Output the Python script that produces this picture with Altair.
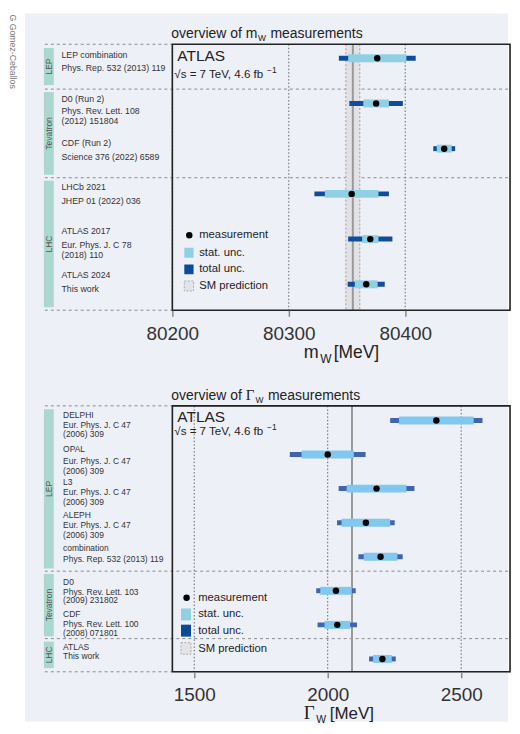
import altair as alt
import pandas as pd

FONT = "Liberation Sans"
SERIF = "Liberation Serif"
BG = "#eef0f8"
GROUPC = "#aad8ce"
TXT = "#333333"

# ---------------- m_W data ----------------
mw_names = ["LEP combination", "D0 (Run 2)", "CDF (Run 2)", "LHCb 2021", "ATLAS 2017", "ATLAS 2024"]
mw_refs = [["Phys. Rep. 532 (2013) 119"], ["Phys. Rev. Lett. 108", "(2012) 151804"],
           ["Science 376 (2022) 6589"], ["JHEP 01 (2022) 036"],
           ["Eur. Phys. J. C 78", "(2018) 110"], ["This work"]]
mw_value = [80376, 80375, 80433.5, 80354, 80370, 80366.5]
mw_stat = [25, 11, 6.4, 23, 7, 9.8]
mw_total = [33, 23, 9.4, 32, 19, 15.9]
mw_sm = 80355
mw_sm_unc = 6
mw_groups = ["LEP", "Tevatron", "LHC"]
mw_ticks = [80200, 80300, 80400]
mw_domain = [80200, 80490]

# ---------------- Gamma_W data ----------------
gw_names = ["DELPHI", "OPAL", "L3", "ALEPH", "combination", "D0", "CDF", "ATLAS"]
gw_refs = [["Eur. Phys. J. C 47", "(2006) 309"], ["Eur. Phys. J. C 47", "(2006) 309"],
           ["Eur. Phys. J. C 47", "(2006) 309"], ["Eur. Phys. J. C 47", "(2006) 309"],
           ["Phys. Rep. 532 (2013) 119"], ["Phys. Rev. Lett. 103", "(2009) 231802"],
           ["Phys. Rev. Lett. 100", "(2008) 071801"], ["This work"]]
gw_value = [2407, 2000, 2183, 2143, 2198, 2031, 2036, 2205]
gw_stat = [140, 98, 112, 91, 63, 59, 48, 35]
gw_total = [173, 142, 142, 108, 83, 74, 74, 50]
gw_sm = 2091
gw_groups = ["LEP", "Tevatron", "LHC"]
gw_ticks = [1500, 2000, 2500]
gw_domain = [1418, 2683]

W = 339
H = 267

stat_color_leg = "#90d0e4"
tot_color_leg = "#0c4a98"


def txt(s, x, y, size, font=FONT, align="left", baseline="alphabetic", color="#222", angle=None):
    kw = dict(align=align, baseline=baseline, fontSize=size, font=font, color=color)
    if angle is not None:
        kw["angle"] = angle
    return alt.Chart(pd.DataFrame({"t": [s]})).mark_text(**kw).encode(
        x=alt.value(x), y=alt.value(y), text="t:N")


def one():
    return pd.DataFrame({"a": [1]})


def panel(names, refs, values, stat, total, groups, ticks, domain, row0, step,
          label_y, group_span, seps, label_x, label_size, tot_color, stat_color,
          sm_kind, sm_val, sm_unc, title_layers, axis_title_layers, atlas_y, legend,
          extra_bg=None):
    yscale = alt.Scale(domain=[0, H], reverse=True)
    xscale = alt.Scale(domain=domain, nice=False, zero=False)
    ax = alt.Axis(values=ticks, format="d", title=None, grid=False, domain=False,
                  tickSize=6, tickColor="#888", tickWidth=1.5, labelFontSize=19,
                  labelColor=TXT, labelFont=FONT, labelBaseline="alphabetic",
                  labelPadding=23, labelFlush=False, labelOverlap=False, zindex=1)

    n = len(values)
    df = pd.DataFrame({"row": list(range(n)), "value": values, "stat": stat, "total": total})
    df["y"] = [row0 + step * i for i in range(n)]
    df["tlo"] = df["value"] - df["total"]
    df["thi"] = df["value"] + df["total"]
    df["slo"] = df["value"] - df["stat"]
    df["shi"] = df["value"] + df["stat"]

    grid_l = alt.Chart(pd.DataFrame({"t": ticks})).mark_rule(
        color="#666", strokeDash=[1.5, 2], strokeWidth=1).encode(
        x=alt.X("t:Q", scale=xscale, axis=ax))

    base = alt.Chart(df)
    tot_l = base.mark_rule(strokeWidth=5, color=tot_color, strokeCap="butt").encode(
        x=alt.X("tlo:Q", scale=xscale, axis=ax), x2="thi:Q",
        y=alt.Y("y:Q", scale=yscale, axis=None))
    stat_l = base.mark_rule(strokeWidth=8, color=stat_color, strokeCap="butt").encode(
        x=alt.X("slo:Q", scale=xscale, axis=ax), x2="shi:Q",
        y=alt.Y("y:Q", scale=yscale, axis=None))
    pt_l = base.mark_circle(size=42, color="black", opacity=1).encode(
        x=alt.X("value:Q", scale=xscale, axis=ax),
        y=alt.Y("y:Q", scale=yscale, axis=None))

    lines, ys = [], []
    k = 0
    for nm, rf in zip(names, refs):
        for s in [nm] + rf:
            lines.append(s)
            ys.append(label_y[k])
            k += 1
    lab_l = alt.Chart(pd.DataFrame({"t": lines, "y": ys})).mark_text(
        align="left", baseline="middle", fontSize=label_size, font=FONT, color=TXT).encode(
        x=alt.value(label_x), y=alt.Y("y:Q", scale=yscale, axis=None), text="t:N")

    gdf = pd.DataFrame({"g": groups, "y0": [a for a, b in group_span], "y1": [b for a, b in group_span]})
    gdf["ym"] = (gdf["y0"] + gdf["y1"]) / 2
    grect = alt.Chart(gdf).mark_rect(color=GROUPC).encode(
        x=alt.value(-129), x2=alt.value(-119),
        y=alt.Y("y0:Q", scale=yscale, axis=None), y2="y1:Q")
    gtext = alt.Chart(gdf).mark_text(angle=270, align="center", baseline="middle",
                                     fontSize=8.5, font=FONT, color="#555").encode(
        x=alt.value(-124), y=alt.Y("ym:Q", scale=yscale, axis=None), text="g:N")

    sep_l = alt.Chart(pd.DataFrame({"y": seps})).mark_rule(
        color="#8a8a8a", strokeDash=[3, 3], strokeWidth=1).encode(
        x=alt.value(-128), x2=alt.value(W), y=alt.Y("y:Q", scale=yscale, axis=None))
    edge_l = alt.Chart(pd.DataFrame({"y": [0, H]})).mark_rule(
        color="#8a8a8a", strokeDash=[3, 3], strokeWidth=1).encode(
        x=alt.value(-128), x2=alt.value(0), y=alt.Y("y:Q", scale=yscale, axis=None))

    sm_l = []
    if sm_kind == "band":
        smdf = pd.DataFrame({"lo": [sm_val - sm_unc], "hi": [sm_val + sm_unc], "c": [sm_val]})
        sm_l += [
            alt.Chart(smdf).mark_rect(color="#e2e2e6").encode(
                x=alt.X("lo:Q", scale=xscale, axis=ax), x2="hi:Q"),
            alt.Chart(smdf).mark_rule(color="#a0a0a0", strokeDash=[2, 2]).encode(
                x=alt.X("lo:Q", scale=xscale, axis=ax)),
            alt.Chart(smdf).mark_rule(color="#a0a0a0", strokeDash=[2, 2]).encode(
                x=alt.X("hi:Q", scale=xscale, axis=ax)),
        ]
    smc = pd.DataFrame({"c": [sm_val]})
    sm_l.append(alt.Chart(smc).mark_rule(color="#999999", strokeWidth=2).encode(
        x=alt.X("c:Q", scale=xscale, axis=ax)))

    frame = alt.Chart(one()).mark_rect(fillOpacity=0, stroke="#222", strokeWidth=1.6).encode(
        x=alt.value(0), x2=alt.value(W), y=alt.value(0), y2=alt.value(H))

    atl = [txt("ATLAS", 5, atlas_y[0], 15.5),
           txt("\u221as = 7 TeV, 4.6 fb", 2, atlas_y[1], 11.6),
           txt("\u22121", 95, atlas_y[1] - 5, 8.5)]

    (cx, cy), sq_x, sq_ys, tx, tys, lsize = legend
    leg = [alt.Chart(one()).mark_circle(size=42, color="black", opacity=1).encode(
        x=alt.value(cx), y=alt.value(cy))]
    for (y0, y1), c in zip(sq_ys[:2], [stat_color_leg, tot_color_leg]):
        leg.append(alt.Chart(one()).mark_rect(color=c).encode(
            x=alt.value(sq_x[0]), x2=alt.value(sq_x[1]), y=alt.value(y0), y2=alt.value(y1)))
    y0, y1 = sq_ys[2]
    leg.append(alt.Chart(one()).mark_rect(
        fill="#e4e4e6", stroke="#aaaaaa", strokeDash=[2, 1.5], strokeWidth=1).encode(
        x=alt.value(sq_x[0]), x2=alt.value(sq_x[1]), y=alt.value(y0), y2=alt.value(y1)))
    for s, ty in zip(["measurement", "stat. unc.", "total unc.", "SM prediction"], tys):
        leg.append(txt(s, tx, ty, lsize, baseline="middle", color="#222"))

    layers = (extra_bg or []) + [grid_l, grect, gtext, sep_l, edge_l] + sm_l + \
        [tot_l, stat_l, pt_l, lab_l] + atl + leg + [frame] + title_layers + axis_title_layers
    return alt.layer(*layers).properties(width=W, height=H)


bg = [
    alt.Chart(one()).mark_rect(color="white").encode(
        x=alt.value(-165), x2=alt.value(337), y=alt.value(-36), y2=alt.value(680)),
    alt.Chart(one()).mark_rect(color=BG).encode(
        x=alt.value(-148), x2=alt.value(337), y=alt.value(-31), y2=alt.value(680)),
    txt("G Gomez-Ceballos", -160, -30, 8.8, align="left", baseline="middle",
        color="#777", angle=90),
]

top = panel(
    mw_names, mw_refs, mw_value, mw_stat, mw_total, mw_groups, mw_ticks, mw_domain,
    row0=14, step=45.4,
    label_y=[11, 23.7, 54.7, 67, 76.7, 99.3, 112.7, 143.7, 157.7, 187, 201.3, 212, 231.7, 245.3],
    group_span=[(3.7, 41), (48, 131), (137, 264)],
    seps=[45, 134], label_x=-111.3, label_size=8.8,
    tot_color="#104c9c", stat_color="#90d0e4",
    sm_kind="band", sm_val=mw_sm, sm_unc=mw_sm_unc,
    title_layers=[txt("overview of m", -1, -6.5, 14, color="#222"),
                  txt("W", 86, -3.5, 8.5, color="#222"),
                  txt("measurements", 98.5, -6.5, 14, color="#222")],
    axis_title_layers=[txt("m", 132, 315, 18, color="#222"),
                       txt("W", 148.5, 320, 12, color="#222"),
                       txt("[MeV]", 162, 315, 17.5, color="#222")],
    atlas_y=(16.5, 34),
    legend=((17, 191.7), (12, 21.3), [(204.3, 214.3), (221, 231), (237.7, 247.7)],
            27, [191.7, 209.3, 226, 242.7], 11.3),
    extra_bg=bg,
)

bottom = panel(
    gw_names, gw_refs, gw_value, gw_stat, gw_total, gw_groups, gw_ticks, gw_domain,
    row0=14.7, step=34.2,
    label_y=[9.4, 19.4, 28.7, 43.4, 55.7, 65.4, 76, 86.7, 96.7, 110, 120, 129.4,
             142.7, 153.7, 177, 186.7, 195.4, 209.4, 218.7, 227.7, 242, 251],
    group_span=[(3.4, 163.4), (168.7, 231.4), (236.7, 263.4)],
    seps=[166, 233.7], label_x=-109.7, label_size=8.5,
    tot_color="#4064b0", stat_color="#80c8f0",
    sm_kind="line", sm_val=gw_sm, sm_unc=0,
    title_layers=[txt("overview of ", -1, -6, 14, color="#222"),
                  txt("\u0393", 73.7, -6, 15, font=SERIF, color="#222"),
                  txt("W", 83.5, -3, 8.5, color="#222"),
                  txt("measurements", 96, -6, 14, color="#222")],
    axis_title_layers=[txt("\u0393", 132, 314, 19, font=SERIF, color="#222"),
                       txt("W", 144.5, 318, 10.5, color="#222"),
                       txt("[MeV]", 158, 314, 17, color="#222")],
    atlas_y=(16.5, 29),
    legend=((14.3, 192.7), (8.7, 18.7), [(203.4, 215.4), (219.7, 231.7), (237.7, 249.4)],
            26, [192.7, 209.4, 225.7, 243.7], 11.3),
)

chart = alt.vconcat(top, bottom, spacing=96, bounds="flush").properties(
    padding={"left": -1, "top": -2, "right": 0, "bottom": -3}
).configure_view(stroke="transparent").configure(font=FONT)

chart.save("out.html", embed_options={"renderer": "svg", "actions": False})
